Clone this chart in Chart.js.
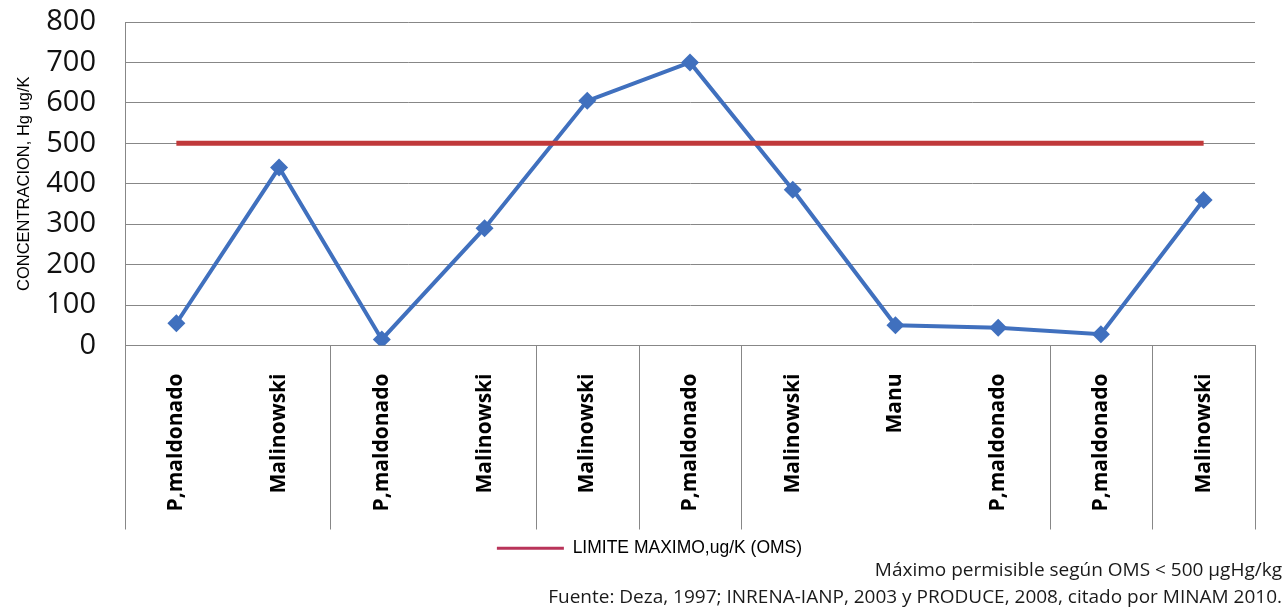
<!DOCTYPE html>
<html>
<head>
<meta charset="utf-8">
<script src="https://cdn.jsdelivr.net/npm/chart.js@4"></script>
<style>
  html, body { margin: 0; padding: 0; background: #fff; }
  #wrap { position: relative; width: 1288px; height: 611px; overflow: hidden; }
  .note { position: absolute; right: 6px; font-family: "Open Sans", sans-serif; font-size: 19px; color: #1a1a1a; white-space: nowrap; line-height: 26px; }
</style>
</head>
<body>
<div id="wrap">
  <canvas id="chart" width="1288" height="611"></canvas>
  <div class="note" style="top:556px;">Máximo permisible según OMS &lt; 500 µgHg/kg</div>
  <div class="note" style="top:583px;">Fuente: Deza, 1997; INRENA-IANP, 2003 y PRODUCE, 2008, citado por MINAM 2010.</div>
</div>
<script>
// Sampling sites along the x axis
const categories = ['P,maldonado', 'Malinowski', 'P,maldonado', 'Malinowski', 'Malinowski',
  'P,maldonado', 'Malinowski', 'Manu', 'P,maldonado', 'P,maldonado', 'Malinowski'];

// Mercury concentration per sample (ug/K)
const concentration = [55, 440, 15, 290, 605, 700, 385, 50, 44, 28, 360];

// WHO maximum limit (ug/K)
const limitMax = [500, 500, 500, 500, 500, 500, 500, 500, 500, 500, 500];

// Y axis range and step
const yMin = 0;
const yMax = 800;
const yStep = 100;

// Category indices where a group separator is drawn below the axis
const groupBreaks = [0, 2, 4, 5, 6, 9, 10, 11];

const gridColor = '#878787';

// Vertical separators between category groups, under the x axis
const groupSeparators = {
  id: 'groupSeparators',
  afterDraw(chart) {
    const x = chart.scales.x;
    const ctx = chart.ctx;
    const n = categories.length;
    const step = x.getPixelForValue(1) - x.getPixelForValue(0);
    ctx.save();
    ctx.strokeStyle = gridColor;
    ctx.lineWidth = 1;
    groupBreaks.forEach(b => {
      const centre = b < n ? x.getPixelForValue(b) - step / 2 : x.getPixelForValue(n - 1) + step / 2;
      const px = Math.round(centre) + 0.5;
      ctx.beginPath();
      ctx.moveTo(px, chart.chartArea.bottom);
      ctx.lineTo(px, x.bottom);
      ctx.stroke();
    });
    ctx.restore();
  }
};

new Chart(document.getElementById('chart'), {
  type: 'line',
  data: {
    labels: categories,
    datasets: [
      {
        label: 'Concentración',
        data: concentration,
        borderColor: '#4070BE',
        backgroundColor: '#4070BE',
        borderWidth: 4,
        pointStyle: 'rectRot',
        pointRadius: 9,
        pointHoverRadius: 9,
        pointBorderWidth: 0,
        tension: 0,
        order: 2
      },
      {
        label: 'LIMITE MAXIMO,ug/K (OMS)',
        data: limitMax,
        borderColor: '#C0393A',
        backgroundColor: '#C0393A',
        borderWidth: 5,
        pointRadius: 0,
        tension: 0,
        order: 1
      }
    ]
  },
  options: {
    responsive: false,
    animation: false,
    devicePixelRatio: 1,
    layout: { padding: { top: 22, left: 44, right: 33, bottom: 44 } },
    plugins: {
      legend: {
        position: 'bottom',
        labels: {
          boxWidth: 67,
          boxHeight: 3,
          padding: 10,
          color: '#222',
          font: { family: 'Liberation Sans', size: 17.5 },
          generateLabels(chart) {
            const ds = chart.data.datasets[1];
            return [{
              text: ds.label,
              fillStyle: '#B9345A',
              strokeStyle: '#B9345A',
              lineWidth: 0,
              hidden: false,
              datasetIndex: 1
            }];
          }
        }
      },
      tooltip: { enabled: false }
    },
    scales: {
      x: {
        offset: true,
        grid: { display: false, drawTicks: false },
        border: { display: true, color: gridColor },
        ticks: {
          minRotation: 90,
          maxRotation: 90,
          autoSkip: false,
          padding: 28,
          color: '#000',
          font: { family: 'Open Sans', size: 21, weight: 'bold' }
        },
        afterFit(scale) { scale.height = 184; }
      },
      y: {
        min: yMin,
        max: yMax,
        ticks: {
          stepSize: yStep,
          autoSkip: false,
          padding: 0,
          color: '#111',
          font: { family: 'Open Sans', size: 29 }
        },
        grid: { color: gridColor, drawTicks: true, tickLength: 29, tickColor: 'rgba(0,0,0,0)' },
        border: { color: gridColor },
        title: {
          display: true,
          text: 'CONCENTRACION, Hg ug/K',
          color: '#000',
          font: { family: 'Liberation Sans', size: 16.5 },
          padding: { top: -29, bottom: 0 }
        },
        afterFit(scale) { scale.width = 81; }
      }
    }
  },
  plugins: [groupSeparators]
});
</script>
</body>
</html>
